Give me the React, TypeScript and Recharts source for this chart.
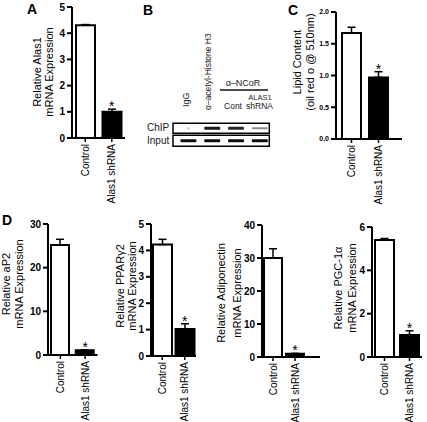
import React from 'react';
import { ComposedChart, Bar, XAxis, YAxis, ErrorBar, Scatter, ScatterChart, ReferenceArea, Cell } from 'recharts';

const FONT = '"Liberation Sans", Arial, Helvetica, sans-serif';

const groups = ['Control', 'Alas1 shRNA'];
const starred = [false, true];

// A: Alas1 knockdown
const alas1Mean = [4.3, 1.0];
const alas1Err = [0.03, 0.1];
// C: lipid content (oil red o)
const lipidMean = [1.67, 0.97];
const lipidErr = [0.09, 0.09];
// D: adipocyte markers
const ap2Mean = [25.2, 1.1];
const ap2Err = [1.3, 0.1];
const ppargMean = [4.22, 1.02];
const ppargErr = [0.2, 0.2];
const adipoMean = [30.0, 1.0];
const adipoErr = [2.8, 0.1];
const pgcMean = [5.4, 1.01];
const pgcErr = [0.07, 0.2];

// B: ChIP blot, lanes IgG / acetyl-H3 / NCoR cont / NCoR shRNA
const blotLanes = [1, 2, 3, 4];
const chipSignal = [0.3, 0.9, 0.85, 0.45];
const inputSignal = [0.95, 0.95, 0.95, 0.95];

const XTick = (props: any) => {
  const { x, y, payload } = props;
  return (
    <text transform={`rotate(-90, ${x}, ${y})`} x={x} y={y} dy="0.35em" textAnchor="end"
      fontFamily={FONT} fontSize={10} fill="#000">{payload.value}</text>
  );
};

const YTick = (props: any) => {
  const { x, y, payload, fs, fmt } = props;
  return (
    <text x={x} y={y} dy="0.35em" textAnchor="end" fontFamily={FONT} fontWeight="bold"
      fontSize={fs} fill="#000">{fmt ? fmt(payload.value) : payload.value}</text>
  );
};

const Star = (props: any) => {
  const { cx, cy, payload } = props;
  if (!payload || payload.star == null || cx == null || cy == null || isNaN(cy)) return null;
  return (
    <text x={cx} y={cy + 2} textAnchor="middle" fontFamily={FONT} fontSize={14} fill="#000">*</text>
  );
};

interface PanelProps {
  means: number[];
  errs: number[];
  ticks: number[];
  axisX: number;
  top: number;
  bottom: number;
  right: number;
  barSize: number;
  padL?: number;
  padR?: number;
  tickFs?: number;
  fmt?: (v: number) => string;
}

function Panel({ means, errs, ticks, axisX, top, bottom, right, barSize, padL = 0, padR = 0, tickFs = 10, fmt }: PanelProps) {
  const data = groups.map((name, i) => ({
    name,
    mean: means[i],
    err: [0, errs[i]],
    star: starred[i] ? means[i] + errs[i] : null,
  }));
  const yW = 30, mt = 5, mr = 4, xh = 70;
  const width = yW + (right - axisX) + mr;
  const height = mt + (bottom - top) + xh;
  return (
    <div style={{ position: 'absolute', left: axisX - yW, top: top - mt }}>
      <ComposedChart width={width} height={height} data={data} margin={{ top: mt, right: mr, left: 0, bottom: 0 }}>
        <XAxis dataKey="name" interval={0} height={xh} padding={{ left: padL, right: padR }}
          axisLine={{ stroke: '#000', strokeWidth: 2 }} tickLine={{ stroke: '#000', strokeWidth: 1.5 }}
          tickSize={4} tick={<XTick />} />
        <YAxis type="number" domain={[0, ticks[ticks.length - 1]]} ticks={ticks} width={yW} interval={0}
          axisLine={{ stroke: '#000', strokeWidth: 2 }} tickLine={{ stroke: '#000', strokeWidth: 2 }}
          tickSize={5} tickMargin={2} tick={<YTick fs={tickFs} fmt={fmt} />} />
        <Bar dataKey="mean" barSize={barSize} stroke="#000" strokeWidth={2} isAnimationActive={false}>
          {data.map((d, i) => <Cell key={i} fill={i === 0 ? '#fff' : '#000'} />)}
          <ErrorBar dataKey="err" width={4} stroke="#000" strokeWidth={1.5} direction="y" />
        </Bar>
        <Scatter dataKey="star" isAnimationActive={false} shape={<Star />} />
      </ComposedChart>
    </div>
  );
}

const Band = (props: any) => {
  const { cx, cy, payload } = props;
  if (cx == null || cy == null) return null;
  const w = payload.signal < 0.35 ? 2 : 16;
  const h = 1.2 + 2 * payload.signal;
  return <rect x={cx - w / 2} y={cy - h / 2} width={w} height={h} rx={1} fill="#000" fillOpacity={payload.signal} />;
};

function Blot() {
  const chip = blotLanes.map((lane, i) => ({ lane, row: 0, signal: chipSignal[i] }));
  const input = blotLanes.map((lane, i) => ({ lane, row: 1, signal: inputSignal[i] }));
  return (
    <div style={{ position: 'absolute', left: 170.7, top: 119.75 }}>
      <ScatterChart width={100.3} height={29} margin={{ top: 2, right: 2, bottom: 2, left: 2 }}>
        <XAxis type="number" dataKey="lane" domain={[0.35, 4.4]} hide />
        <YAxis type="number" dataKey="row" domain={[-0.5, 1.5]} reversed hide />
        <ReferenceArea x1={0.35} x2={4.4} y1={-0.4} y2={0.4} fill="#fff" fillOpacity={0} stroke="#000" strokeWidth={1.5} />
        <ReferenceArea x1={0.35} x2={4.4} y1={0.56} y2={1.44} fill="#fff" fillOpacity={0} stroke="#000" strokeWidth={1.5} />
        <Scatter data={chip} isAnimationActive={false} shape={<Band />} />
        <Scatter data={input} isAnimationActive={false} shape={<Band />} />
      </ScatterChart>
    </div>
  );
}

const titles: { x: number; y: number; text: string }[] = [
  { x: 37, y: 72, text: 'Relative Alas1' },
  { x: 49, y: 72, text: 'mRNA Expression' },
  { x: 297, y: 62, text: 'Lipid Content' },
  { x: 310, y: 62, text: '(oil red o @ 510nm)' },
  { x: 6, y: 284, text: 'Relative aP2' },
  { x: 19, y: 284, text: 'mRNA Expression' },
  { x: 120, y: 286, text: 'Relative PPAR\u03b32' },
  { x: 132, y: 286, text: 'mRNA Expression' },
  { x: 221, y: 293, text: 'Relative Adiponectin' },
  { x: 237, y: 293, text: 'mRNA Expression' },
  { x: 338, y: 288, text: 'Relative PGC-1\u03b1' },
  { x: 352, y: 288, text: 'mRNA Expression' },
];

export default function App() {
  return (
    <div style={{ position: 'absolute', left: 0, top: 0, width: 427, height: 422, background: '#fff', overflow: 'hidden' }}>
      <Panel means={alas1Mean} errs={alas1Err} ticks={[0, 1, 2, 3, 4, 5]} axisX={72} top={7} bottom={138} right={125} barSize={19} />
      <Panel means={lipidMean} errs={lipidErr} ticks={[0, 0.5, 1, 1.5, 2]} axisX={336} top={12} bottom={139} right={402}
        barSize={19} padL={2} padR={10} tickFs={7} fmt={(v) => v.toFixed(1)} />
      <Panel means={ap2Mean} errs={ap2Err} ticks={[0, 10, 20, 30]} axisX={47.5} top={224} bottom={355} right={97} barSize={18} />
      <Panel means={ppargMean} errs={ppargErr} ticks={[0, 1, 2, 3, 4, 5]} axisX={151} top={224} bottom={356} right={196} barSize={19} />
      <Panel means={adipoMean} errs={adipoErr} ticks={[0, 10, 20, 30, 40]} axisX={262} top={225} bottom={357} right={320}
        barSize={18} padR={14} />
      <Panel means={pgcMean} errs={pgcErr} ticks={[0, 2, 4, 6]} axisX={372} top={227} bottom={357} right={422} barSize={19} />
      <Blot />
      <svg width={427} height={422} style={{ position: 'absolute', left: 0, top: 0, pointerEvents: 'none' }} fontFamily={FONT}>
        <text x={27} y={14} fontSize={14} fontWeight="bold">A</text>
        <text x={143} y={15} fontSize={14} fontWeight="bold">B</text>
        <text x={288} y={15} fontSize={14} fontWeight="bold">C</text>
        <text x={2} y={225} fontSize={14} fontWeight="bold">D</text>
        {titles.map((t, i) => (
          <text key={i} x={t.x} y={t.y} dy="0.35em" transform={`rotate(-90, ${t.x}, ${t.y})`} textAnchor="middle"
            fontSize={11} fill="#000">{t.text}</text>
        ))}
        <text x={147} y={131} fontSize={10} fill="#222">ChIP</text>
        <text x={147} y={144} fontSize={10} fill="#222">Input</text>
        <text x={186} y={107} dy="0.35em" transform="rotate(-90, 186, 107)" fontSize={9} fill="#222">IgG</text>
        <text x={208} y={110} dy="0.35em" transform="rotate(-90, 208, 110)" fontSize={8.5} fill="#222">{'\u03b1\u2013acetyl-Histone H3'}</text>
        <text x={243} y={86} textAnchor="middle" fontSize={9} fill="#222">{'\u03b1\u2013NCoR'}</text>
        <line x1={220} y1={90} x2={268} y2={90} stroke="#111" strokeWidth={1.5} />
        <text x={260} y={100} textAnchor="middle" fontSize={7.5} fill="#222">ALAS1</text>
        <text x={233} y={109} textAnchor="middle" fontSize={8.5} fill="#222">Cont</text>
        <text x={259.5} y={109} textAnchor="middle" fontSize={8.5} fill="#222">shRNA</text>
      </svg>
    </div>
  );
}
